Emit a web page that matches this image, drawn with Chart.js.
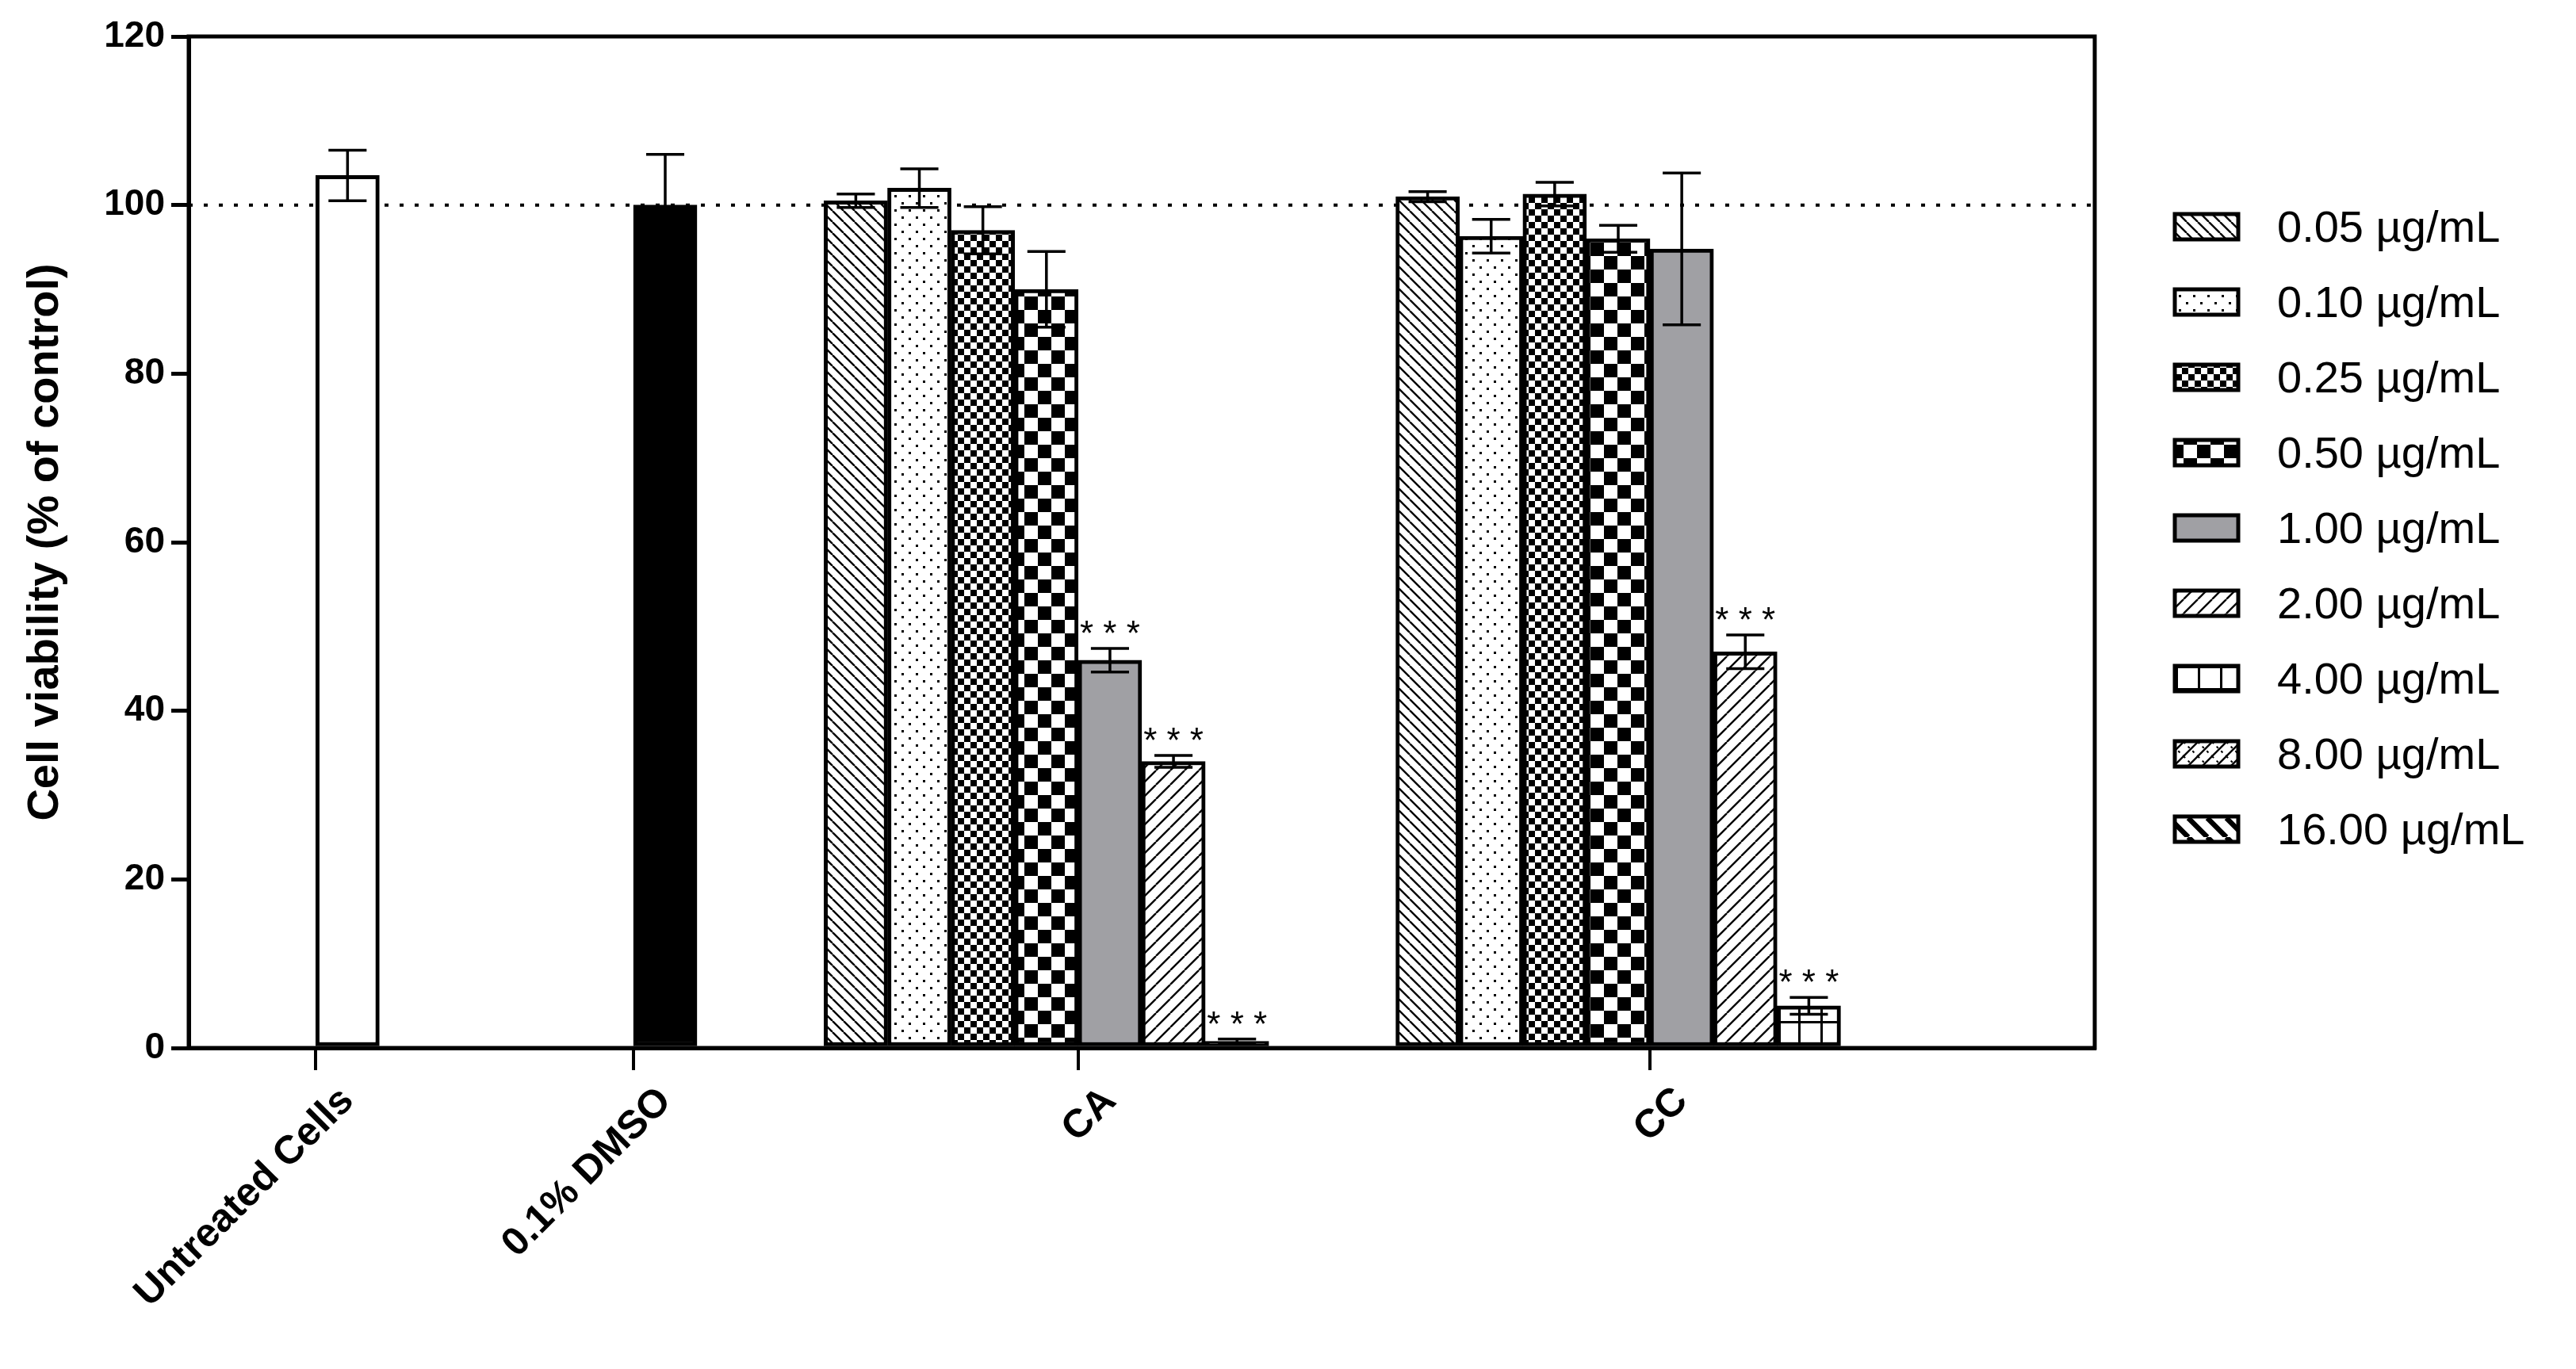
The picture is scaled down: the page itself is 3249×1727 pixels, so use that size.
<!DOCTYPE html>
<html><head><meta charset="utf-8">
<script src="https://cdn.jsdelivr.net/npm/chart.js@4.4.1/dist/chart.umd.min.js"></script>
<style>html,body{margin:0;padding:0;background:#fff}#wrap{width:3249px;height:1727px}</style>
</head><body><div id="wrap"><canvas id="c" width="3249" height="1727"></canvas></div>
<script>
const groupLabels = ['Untreated Cells', '0.1% DMSO', 'CA', 'CC'];
const concentrations = ['0.05 µg/mL','0.10 µg/mL','0.25 µg/mL','0.50 µg/mL','1.00 µg/mL','2.00 µg/mL','4.00 µg/mL','8.00 µg/mL','16.00 µg/mL'];
const untreatedValue = 103.5, untreatedErr = 3.0;
const dmsoValue = 100.0, dmsoErr = 6.0;
const caValues = [100.5, 102.0, 97.0, 90.0, 46.0, 34.0, 0.8, null, null];
const caErrors = [0.8, 2.3, 2.8, 4.5, 1.4, 0.7, 0.25, null, null];
const caSig = [false, false, false, false, true, true, true, false, false];
const ccValues = [101.0, 96.3, 101.3, 96.0, 94.8, 47.0, 5.0, null, null];
const ccErrors = [0.6, 2.0, 1.4, 1.6, 9.0, 2.0, 1.0, null, null];
const ccSig = [false, false, false, false, false, true, true, false, false];
const yTicks = [0, 20, 40, 60, 80, 100, 120];
const referenceLine = 100;

const NSLOTS = 30, UNT = 2, DMSO = 7, CA0 = 10, CC0 = 19, CAC = 14, CCC = 23;
const labels = Array.from({length: NSLOTS}, () => '');
labels[UNT] = groupLabels[0]; labels[DMSO] = groupLabels[1]; labels[CAC] = groupLabels[2]; labels[CCC] = groupLabels[3];
const tickSlots = [UNT, DMSO, CAC, CCC];

const cv = document.getElementById('c'); const g = cv.getContext('2d');
function tile(s, draw) {
  const t = document.createElement('canvas'); t.width = s; t.height = s;
  const x = t.getContext('2d'); x.fillStyle = '#fff'; x.fillRect(0,0,s,s);
  x.fillStyle = '#000'; x.strokeStyle = '#000'; draw(x, s); return g.createPattern(t, 'repeat');
}
function diag(x, s, w, back) {
  x.lineWidth = w; x.beginPath();
  for (let k = -1; k <= 1; k++) {
    if (back) { x.moveTo(k*s, 0); x.lineTo(k*s + s, s); }
    else { x.moveTo(k*s, s); x.lineTo(k*s + s, 0); }
  }
  x.stroke();
}
const patterns = [
  tile(14, (x,s)=>diag(x,s,2.4,true)),
  tile(18, (x,s)=>{x.fillRect(3,3,3,3);x.fillRect(12,12,3,3);}),
  tile(16, (x,s)=>{x.fillRect(0,0,8,8);x.fillRect(8,8,8,8);}),
  tile(34, (x,s)=>{x.fillRect(0,0,17,17);x.fillRect(17,17,17,17);}),
  '#a0a0a4',
  tile(18, (x,s)=>diag(x,s,2.4,false)),
  tile(28, (x,s)=>{x.fillRect(0,0,28,3);x.fillRect(0,0,3,28);}),
  tile(18, (x,s)=>{diag(x,s,2.4,false);x.setLineDash([3,5]);diag(x,s,2,true);}),
  tile(24, (x,s)=>diag(x,s,6.5,true))
];

const datasets = [];
function slotData(pairs) { const d = Array(NSLOTS).fill(null); pairs.forEach(([i,v])=>{d[i]=v;}); return d; }
datasets.push({label:'Untreated', data: slotData([[UNT, untreatedValue]]), backgroundColor:'#fff', errs: slotData([[UNT, untreatedErr]]), sig: [], legend:false});
datasets.push({label:'DMSO', data: slotData([[DMSO, dmsoValue]]), backgroundColor:'#000', errs: slotData([[DMSO, dmsoErr]]), sig: [], legend:false});
concentrations.forEach((c, k) => {
  const pairs = [], ep = [], sg = [];
  if (caValues[k] != null) { pairs.push([CA0+k, caValues[k]]); ep.push([CA0+k, caErrors[k]]); if (caSig[k]) sg.push(CA0+k); }
  if (ccValues[k] != null) { pairs.push([CC0+k, ccValues[k]]); ep.push([CC0+k, ccErrors[k]]); if (ccSig[k]) sg.push(CC0+k); }
  datasets.push({label: c, data: slotData(pairs), backgroundColor: patterns[k], errs: slotData(ep), sig: sg, legend: true});
});
datasets.forEach(d => { d.borderColor = '#000'; d.borderWidth = 5; d.grouped = false; d.barPercentage = 1; d.categoryPercentage = 1; d.borderSkipped = false; });

const FONT = 'Arial, "Liberation Sans", sans-serif';
const extras = {
  id: 'extras',
  beforeDatasetsDraw(chart) {
    const {ctx, chartArea: a, scales: {y}} = chart;
    const py = y.getPixelForValue(referenceLine);
    ctx.save(); ctx.strokeStyle = '#000'; ctx.lineWidth = 4; ctx.setLineDash([5, 14]);
    ctx.beginPath(); ctx.moveTo(a.left, py); ctx.lineTo(a.right, py); ctx.stroke(); ctx.restore();
  },
  afterDatasetsDraw(chart) {
    const {ctx, chartArea: a, scales: {y}} = chart;
    ctx.save(); ctx.strokeStyle = '#000'; ctx.lineWidth = 3.5;
    chart.data.datasets.forEach((ds, di) => {
      const meta = chart.getDatasetMeta(di);
      ds.data.forEach((v, i) => {
        if (v == null) return; const e = ds.errs[i]; const el = meta.data[i];
        const cx = el.x, hw = el.width * 0.3;
        const t = y.getPixelForValue(v + e), b = y.getPixelForValue(Math.max(0, v - e));
        ctx.beginPath(); ctx.moveTo(cx, t); ctx.lineTo(cx, b);
        ctx.moveTo(cx-hw, t); ctx.lineTo(cx+hw, t); ctx.moveTo(cx-hw, b); ctx.lineTo(cx+hw, b); ctx.stroke();
        if (ds.sig.includes(i)) {
          ctx.fillStyle = '#000'; ctx.font = '44px ' + FONT; ctx.textAlign = 'center'; ctx.textBaseline = 'alphabetic';
          ctx.fillText('* * *', cx, t - 4);
        }
      });
    });
    ctx.lineWidth = 5; ctx.strokeRect(a.left, a.top, a.right - a.left, a.bottom - a.top);
    const items = chart.data.datasets.filter(d => d.legend);
    let ly = 286;
    items.forEach(d => {
      ctx.fillStyle = d.backgroundColor; ctx.fillRect(2743, ly - 16, 80, 32);
      ctx.lineWidth = 5; ctx.strokeRect(2743, ly - 16, 80, 32);
      ctx.fillStyle = '#000'; ctx.font = '56px ' + FONT; ctx.textAlign = 'left'; ctx.textBaseline = 'middle';
      ctx.fillText(d.label, 2872, ly + 4);
      ly += 95;
    });
    ctx.restore();
  }
};

new Chart(cv, {
  type: 'bar',
  data: {labels, datasets},
  options: {
    responsive: false, animation: false, devicePixelRatio: 1,
    layout: {padding: {left: 20, top: 46, right: 607, bottom: 0}},
    plugins: {legend: {display: false}, tooltip: {enabled: false}},
    scales: {
      x: {
        afterFit: s => { s.height = 405; },
        grid: {display: true, drawOnChartArea: false, tickLength: 28, lineWidth: 4,
               tickColor: c => tickSlots.includes(c.index) ? '#000' : 'rgba(0,0,0,0)'},
        border: {display: true, color: '#000', width: 5},
        ticks: {autoSkip: false, maxRotation: 45, minRotation: 45, color: '#000', padding: 10,
                font: {family: FONT, size: 50, weight: 'bold'}}
      },
      y: {
        min: 0, max: 120, afterBuildTicks: s => { s.ticks = yTicks.map(v => ({value: v})); },
        afterFit: s => { s.width = 218; },
        grid: {display: true, drawOnChartArea: false, tickLength: 22, lineWidth: 5, tickColor: '#000'},
        border: {display: true, color: '#000', width: 5},
        ticks: {color: '#000', padding: 8, font: {family: FONT, size: 46, weight: 'bold'}},
        title: {display: true, text: 'Cell viability (% of control)', color: '#000', padding: {bottom: 12},
                font: {family: FONT, size: 56, weight: 'bold'}}
      }
    }
  },
  plugins: [extras]
});
</script></body></html>
